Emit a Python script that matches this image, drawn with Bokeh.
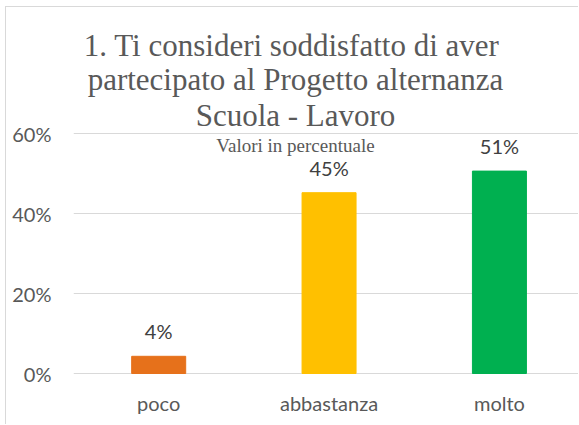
from bokeh.plotting import figure
from bokeh.models import Range1d, FixedTicker, ColumnDataSource
from bokeh.core.properties import value
from bokeh.embed import file_html
from bokeh.resources import INLINE

categories = ["poco", "abbastanza", "molto"]
values = [4.3, 45.2, 50.6]
value_labels = ["4%", "45%", "51%"]
colors = ["#E6711B", "#FFC000", "#00B050"]
y_ticks = [0, 20, 40, 60]
y_tick_labels = ["0%", "20%", "40%", "60%"]
title_lines = ["1. Ti  consideri soddisfatto di aver",
               "partecipato al Progetto alternanza",
               "Scuola - Lavoro"]
subtitle = "Valori in percentuale"

xs = list(range(len(categories)))

p = figure(width=573, height=418, output_backend="svg", toolbar_location=None,
           x_range=Range1d(-0.5, 2.47), y_range=Range1d(-0.25, 91.5),
           min_border_left=67, min_border_right=0, min_border_top=0, min_border_bottom=51)
p.outline_line_color = None
p.background_fill_color = "white"
p.styles = {"margin-left": "5px", "margin-top": "6px",
            "border-left": "1px solid #d9d9d9", "border-top": "1px solid #d9d9d9"}

src = ColumnDataSource(dict(x=xs, top=values, color=colors, lab=value_labels,
                            ly=[v + 6.25 for v in values]))
p.vbar(x="x", top="top", bottom=0, width=0.317, color="color", source=src)
p.text(x="x", y="ly", text="lab", source=src, text_align="center",
       text_baseline="alphabetic", text_font=value("Lato"), text_font_size="20px",
       text_color="#404040")

# title
tx = 0.803
for line, y in zip(title_lines, [82.0, 73.5, 64.5]):
    p.text(x=[tx], y=[y], text=[line], text_align="center", text_baseline="alphabetic",
           text_font=value("Liberation Serif"), text_font_size="31px", text_color="#595959")
p.text(x=[tx], y=[57.0], text=[subtitle], text_align="center", text_baseline="alphabetic",
       text_font=value("Liberation Serif"), text_font_size="19px", text_color="#595959")

# axes
p.xaxis.ticker = FixedTicker(ticks=xs)
p.xaxis.major_label_overrides = {i: c for i, c in zip(xs, categories)}
p.yaxis.ticker = FixedTicker(ticks=y_ticks)
p.yaxis.major_label_overrides = {t: l for t, l in zip(y_ticks, y_tick_labels)}
for ax in (p.xaxis, p.yaxis):
    ax.axis_line_color = None
    ax.major_tick_line_color = None
    ax.minor_tick_line_color = None
    ax.major_tick_out = 0
    ax.major_tick_in = 0
    ax.minor_tick_out = 0
    ax.axis_label_standoff = 0
    ax.major_label_text_font = "Lato"
    ax.major_label_text_font_size = "20px"
    ax.major_label_text_color = "#595959"
p.xaxis.major_label_standoff = 16
p.yaxis.major_label_standoff = 22

p.xgrid.grid_line_color = None
p.ygrid.ticker = FixedTicker(ticks=y_ticks)
p.ygrid.grid_line_color = "#d9d9d9"
p.ygrid.grid_line_width = 1

open("out.html", "w").write(file_html(p, INLINE))
